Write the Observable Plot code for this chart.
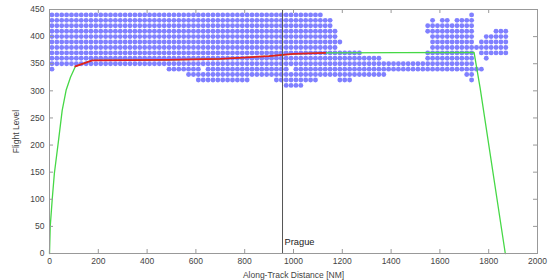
<!DOCTYPE html>
<html><head><meta charset="utf-8">
<script src="https://cdn.jsdelivr.net/npm/d3@7"></script>
<script src="https://cdn.jsdelivr.net/npm/@observablehq/plot@0.6"></script>
<style>
body{margin:0;background:#fff}
#chart{width:550px;height:280px}
</style>
</head><body><div id="chart"></div>
<script>
// ---- tick labels ----
const xTicks = [0,200,400,600,800,1000,1200,1400,1600,1800,2000];
const yTicks = [0,50,100,150,200,250,300,350,400,450];

// ---- available-airspace grid: runs of dots [fromNM, toNM] per flight level, one dot every 20 NM ----
const gridStepNM = 20;
const gridLevels = [440,430,420,410,400,390,380,370,360,350,340,330,320,310];
const fl440 = [[10,1110],[1730,1730]];
const fl430 = [[10,1150],[1570,1570],[1610,1630],[1670,1730]];
const fl420 = [[10,1150],[1550,1730]];
const fl410 = [[10,1170],[1550,1730],[1830,1870]];
const fl400 = [[10,1170],[1570,1730],[1790,1870]];
const fl390 = [[10,1190],[1570,1730],[1770,1870]];
const fl380 = [[10,1170],[1570,1870]];
const fl370 = [[10,1270],[1550,1730],[1770,1870]];
const fl360 = [[10,1350],[1550,1730],[1790,1790]];
const fl350 = [[10,1730]];
const fl340 = [[10,10],[490,610],[650,970],[1010,1770]];
const fl330 = [[570,1370],[1710,1730]];
const fl320 = [[610,810],[930,1090],[1190,1230],[1730,1730]];
const fl310 = [[970,1030]];
const gridRuns = [fl440,fl430,fl420,fl410,fl400,fl390,fl380,fl370,fl360,fl350,fl340,fl330,fl320,fl310];

// ---- flight profile (green) ----
const profileNM = [0,3,11,20,36,52,68,86,106,175,480,700,900,1000,1130,1740,1765,1868];
const profileFL = [0,50,99,148,205,264,301,325,345,356,357,359,364,368,370,371,305,0];

// ---- optimised segment (red) ----
const redNM = [106,175,480,700,900,1000,1130];
const redFL = [345,356,357,359,364,368,370];

// ---- reference location ----
const placeNM = [955];
const placeName = ["Prague"];

// build tables
const gridDots = [];
gridLevels.forEach((fl, i) => {
  for (const [a, b] of gridRuns[i]) {
    for (let x = a; x <= b; x += gridStepNM) gridDots.push({x, fl});
  }
});
const profile = profileNM.map((x, i) => ({x, fl: profileFL[i]}));
const red = redNM.map((x, i) => ({x, fl: redFL[i]}));
const places = placeNM.map((x, i) => ({x, name: placeName[i]}));

const W = 550, H = 280, mL = 49, mR = 13, mT = 9, mB = 27;
const innerW = W - mL - mR, innerH = H - mT - mB;
const plain = d => String(d);

const chart = Plot.plot({
  width: W, height: H,
  marginLeft: mL, marginRight: mR, marginTop: mT, marginBottom: mB,
  style: {fontFamily: "'Liberation Sans', Arial, sans-serif", fontSize: "8.5px", color: "#444", background: "#fff"},
  x: {domain: [0, 2000]},
  y: {domain: [0, 450]},
  marks: [
    Plot.dot(gridDots, {x: "x", y: "fl", r: 2.45, fill: "#8080ff", stroke: "none"}),
    Plot.line(profile, {x: "x", y: "fl", stroke: "#46d846", strokeWidth: 1.3}),
    Plot.line(red, {x: "x", y: "fl", stroke: "#e41e1e", strokeWidth: 1.8}),
    Plot.ruleX(places, {x: "x", stroke: "#555", strokeWidth: 1}),
    Plot.text(places, {x: "x", text: "name", frameAnchor: "bottom", dy: -9, dx: 2, textAnchor: "start", fontSize: 9.3, fill: "#222"}),
    Plot.frame({stroke: "#999"}),
    Plot.tickX(xTicks, {x: d => d, insetTop: innerH - 4, stroke: "#999"}),
    Plot.tickX(xTicks, {x: d => d, insetBottom: innerH - 4, stroke: "#999"}),
    Plot.tickY(yTicks, {y: d => d, insetLeft: innerW - 4, stroke: "#999"}),
    Plot.tickY(yTicks, {y: d => d, insetRight: innerW - 4, stroke: "#999"}),
    Plot.axisX(xTicks, {anchor: "bottom", tickSize: 0, tickPadding: 4, tickFormat: plain, label: "Along-Track Distance [NM]", labelAnchor: "center", labelOffset: 24, labelArrow: "none", fill: "#444"}),
    Plot.axisY(yTicks, {anchor: "left", tickSize: 0, tickPadding: 5, tickFormat: plain, label: "Flight Level", labelAnchor: "center", labelOffset: 37, labelArrow: "none", fill: "#444"})
  ]
});
document.getElementById("chart").appendChild(chart);
</script>
</body></html>
